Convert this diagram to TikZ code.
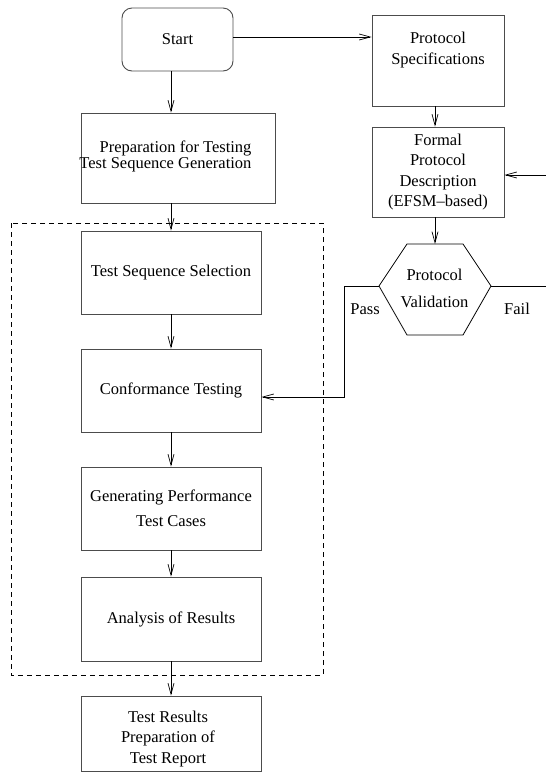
\documentclass[tikz,border=0pt]{standalone}
\usepackage{fontspec}
\setmainfont{Liberation Serif}
\usetikzlibrary{arrows.meta}

\begin{document}
\begin{tikzpicture}[x=1pt,y=-1pt,
  every node/.style={font=\fontsize{16.5}{20.5}\selectfont},
  box/.style={draw=black!70,line width=0.9pt,minimum width=180pt,
    minimum height=83pt,align=center,inner sep=0pt},
  arr/.style={-{Straight Barb[length=11pt,width=6pt]},line width=0.7pt}]
  \useasboundingbox (0,0) rectangle (546,772);
  \node[box,minimum width=111pt,minimum height=63pt,rounded corners=10pt] (start) at (177.5,39.5) {Start};
  \node[box,minimum width=132pt,minimum height=91pt] (spec) at (438,60.5) {};
  \node[align=center] (spectxt) at (438,50) {Protocol\\Specifications};
  \node[box,minimum width=194pt,minimum height=90pt] (prep) at (178,158) {};
  \node[align=right,anchor=east,font=\fontsize{16.5}{13}\selectfont] (preptxt) at (255,156.5) {Preparation for Testing\\Test Sequence Generation};
  \node[box] (tss) at (171,272.5) {Test Sequence Selection};
  \node[box] (conf) at (171,390.5) {Conformance Testing};
  \node[box] (gen) at (171,508.5) {Generating Performance\\[5pt]Test Cases};
  \node[box,minimum height=84pt] (anal) at (171,619) {Analysis of Results};
  \node[box,minimum height=75pt] (res) at (171,733.5) {};
  \node[align=center] (restxt) at (168,739) {Test Results\\Preparation of\\Test Report};
  \node[box,minimum width=132pt,minimum height=90pt] (formal) at (438,172) {Formal\\Protocol\\Description\\(EFSM--based)};
  \draw[line width=0.8pt] (407,244) -- (463,244) -- (491,286) coordinate (hexE)
    -- (463,335) -- (407,335) -- (379,286) coordinate (hexW) -- cycle;
  \coordinate (hexN) at (435,244);
  \node[align=center] (valid) at (434.5,288.5) {Protocol\\[6pt]Validation};
  \node (pass) at (365,309) {Pass};
  \node (fail) at (517,309) {Fail};
  \draw[dash pattern=on 5pt off 4pt,line width=0.7pt] (11,223) rectangle (323,675);
  \coordinate (col) at (171,0);
  \coordinate (fbk) at (546,175);
  \coordinate (failend) at (546,286);
  \draw[arr] ([yshift=2.5pt]start.east) coordinate (s1) -- (s1 -| spec.west);
  \draw[arr] (start.south -| col) -- (prep.north -| col);
  \draw[arr] (prep.south -| col) -- (tss.north);
  \draw[arr] (tss.south) -- (conf.north);
  \draw[arr] (conf.south) -- (gen.north);
  \draw[arr] (gen.south) -- (anal.north);
  \draw[arr] (anal.south) -- (res.north);
  \draw[arr] (spec.south -| hexN) -- (formal.north -| hexN);
  \draw[arr] (formal.south -| hexN) -- (hexN);
  \draw[arr] (fbk) -- (fbk -| formal.east);
  \draw[line width=0.7pt] (hexE) -- (failend);
  \draw[arr] (hexW) -- (344,286) |- ([yshift=-6.5pt]conf.east);
\end{tikzpicture}
\end{document}
